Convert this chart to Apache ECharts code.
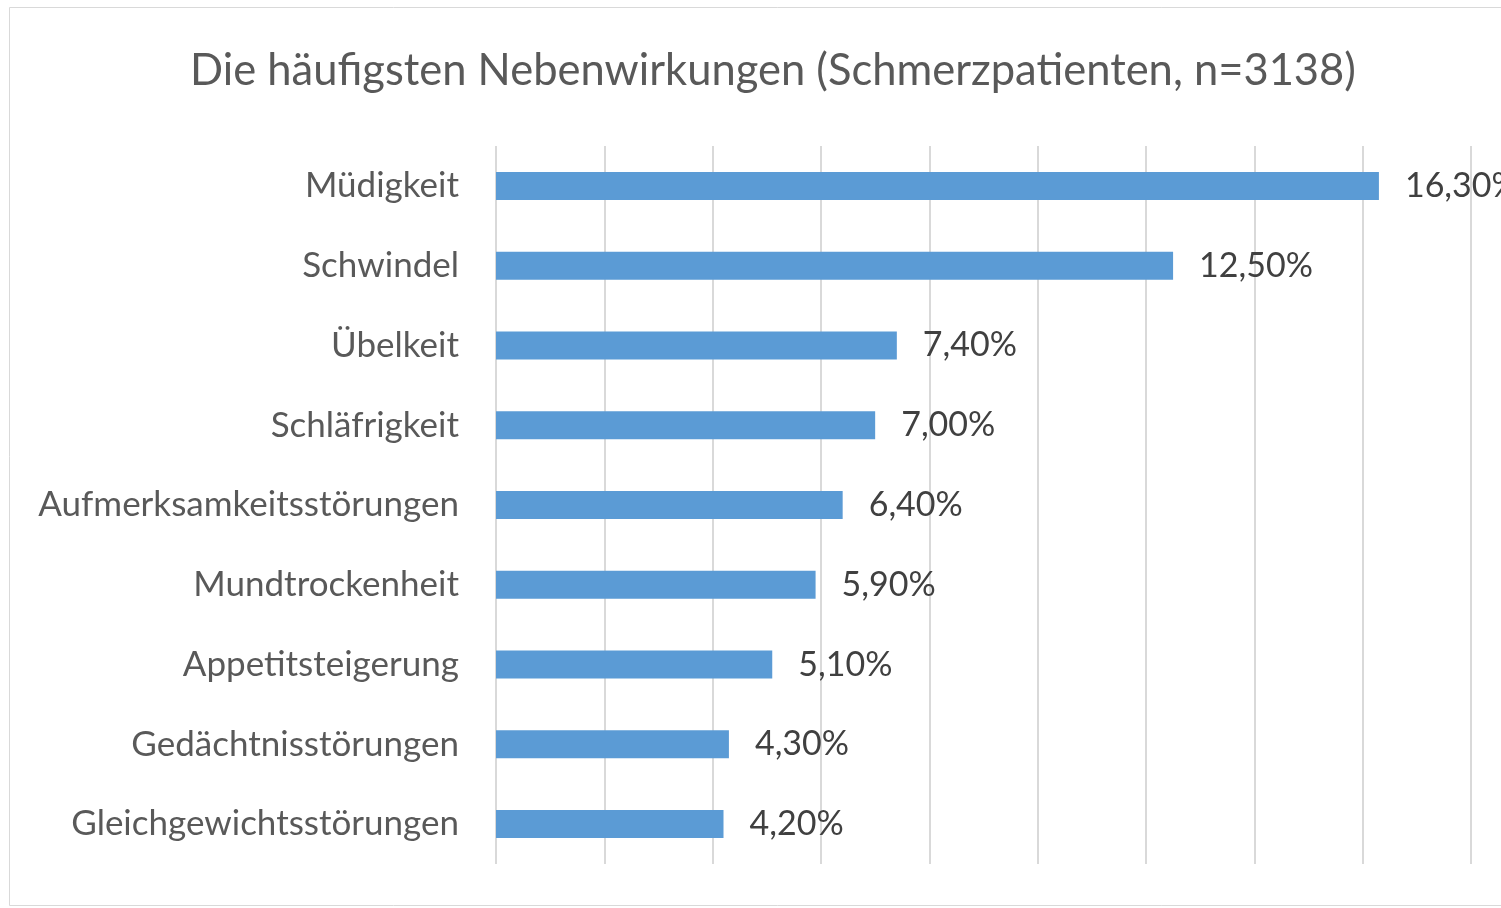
<!DOCTYPE html>
<html>
<head>
<meta charset="utf-8">
<script src="https://cdn.jsdelivr.net/npm/echarts@6/dist/echarts.min.js"></script>
<style>
  html, body { margin: 0; padding: 0; overflow: hidden; background: #fff; }
  #chart { width: 1546px; height: 908px; }
</style>
</head>
<body>
<div id="chart"></div>
<script>
const titleText = 'Die häufigsten Nebenwirkungen (Schmerzpatienten, n=3138)';
const categories = [
  'Müdigkeit',
  'Schwindel',
  'Übelkeit',
  'Schläfrigkeit',
  'Aufmerksamkeitsstörungen',
  'Mundtrockenheit',
  'Appetitsteigerung',
  'Gedächtnisstörungen',
  'Gleichgewichtsstörungen'
];
const percentages = [16.3, 12.5, 7.4, 7.0, 6.4, 5.9, 5.1, 4.3, 4.2];

const font = 'Lato';
const chart = echarts.init(document.getElementById('chart'));

const fmt = v => v.toFixed(2).replace('.', ',') + '%';

chart.setOption({
  animation: false,
  backgroundColor: '#fff',
  title: {
    text: titleText,
    left: 'center',
    top: 44,
    textStyle: { fontFamily: font, fontSize: 43.5, fontWeight: 'normal', color: '#595959' }
  },
  graphic: [{
    type: 'polyline',
    shape: { points: [[1546, 7.5], [9.5, 7.5], [9.5, 905.5], [1546, 905.5]] },
    style: { fill: 'none', stroke: '#d9d9d9', lineWidth: 1 },
    silent: true
  }],
  grid: { left: 496, width: 975, top: 146, height: 718, containLabel: false },
  xAxis: {
    type: 'value',
    min: 0,
    max: 18,
    interval: 2,
    axisLabel: { show: false },
    axisLine: { show: false },
    axisTick: { show: false },
    splitLine: { lineStyle: { color: '#d9d9d9', width: 2 } }
  },
  yAxis: {
    type: 'category',
    inverse: true,
    data: categories,
    axisLine: { show: false },
    axisTick: { show: false },
    axisLabel: { fontFamily: font, fontSize: 35, color: '#595959', margin: 37 }
  },
  series: [{
    type: 'bar',
    data: percentages,
    barWidth: 28,
    itemStyle: { color: '#5b9bd5' },
    label: {
      show: true,
      position: 'right',
      distance: 26,
      fontFamily: font,
      fontSize: 34,
      color: '#404040',
      formatter: p => fmt(p.value)
    }
  }]
});
</script>
</body>
</html>
